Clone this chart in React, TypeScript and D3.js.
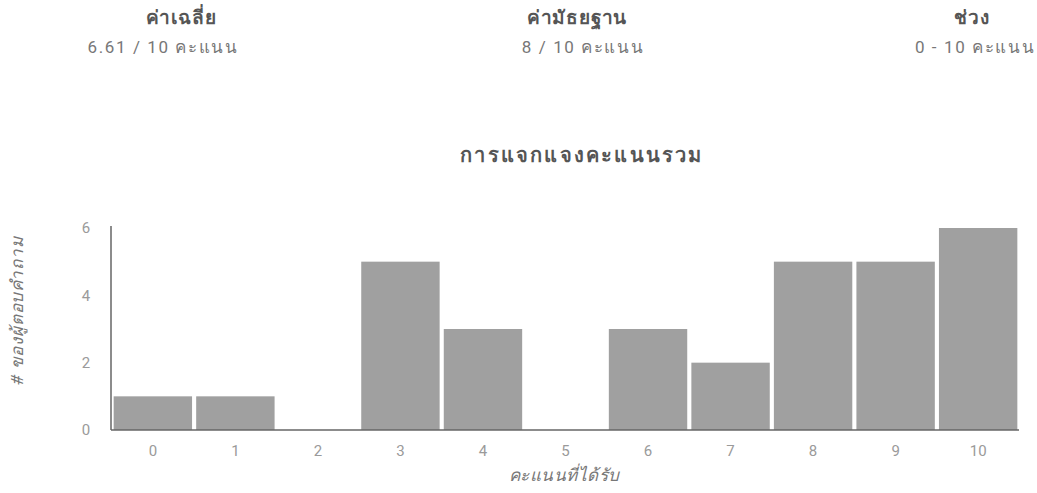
import React, { useEffect, useRef } from 'react';
import * as d3 from 'd3';

const scores = ['0', '1', '2', '3', '4', '5', '6', '7', '8', '9', '10'];
const counts = [1, 1, 0, 5, 3, 0, 3, 2, 5, 5, 6];
const yTicks = [0, 2, 4, 6];

const statLabels = ['ค่าเฉลี่ย', 'ค่ามัธยฐาน', 'ช่วง'];
const statValues = ['6.61 / 10 คะแนน', '8 / 10 คะแนน', '0 - 10 คะแนน'];

const chartTitle = 'การแจกแจงคะแนนรวม';
const xTitle = 'คะแนนที่ได้รับ';
const yTitle = '# ของผู้ตอบคำถาม';

const W = 1037;
const H = 493;
const FONT = "Roboto, 'Noto Sans', 'DejaVu Sans', sans-serif";

export default function App() {
  const ref = useRef<SVGSVGElement>(null);

  useEffect(() => {
    if (!ref.current) return;
    const svg = d3.select(ref.current);
    svg.selectAll('*').remove();

    svg.append('rect').attr('width', W).attr('height', H).attr('fill', '#ffffff');

    // summary stats
    const labelX = [181, 577, 972];
    const valueX = [163, 583, 975];
    statLabels.forEach((lab, i) => {
      svg.append('text')
        .attr('x', labelX[i]).attr('y', 24).attr('text-anchor', 'middle')
        .attr('font-family', FONT).attr('font-weight', 700).attr('font-size', '19px')
        .attr('letter-spacing', '0.8px')
        .attr('fill', '#555').text(lab);
      svg.append('text')
        .attr('x', valueX[i]).attr('y', 53).attr('text-anchor', 'middle')
        .attr('font-family', FONT).attr('font-size', '17px')
        .attr('letter-spacing', '1.6px')
        .attr('fill', '#777').text(statValues[i]);
    });

    svg.append('text')
      .attr('x', 582).attr('y', 162).attr('text-anchor', 'middle')
      .attr('font-family', FONT).attr('font-weight', 700).attr('font-size', '20px')
      .attr('letter-spacing', '2.2px')
      .attr('fill', '#555').text(chartTitle);

    const x = d3.scaleBand<string>().domain(scores).range([112, 1019]).paddingInner(0.05).paddingOuter(0.02);
    const y = d3.scaleLinear().domain([0, 6]).range([430, 228]);

    svg.append('g').selectAll('rect')
      .data(counts).enter().append('rect')
      .attr('x', (d, i) => x(scores[i])!)
      .attr('y', d => y(d))
      .attr('width', x.bandwidth())
      .attr('height', d => y(0) - y(d))
      .attr('fill', '#a0a0a0');

    // axes lines
    svg.append('line')
      .attr('x1', 111).attr('x2', 111).attr('y1', y(6) - 2).attr('y2', y(0))
      .attr('stroke', '#666').attr('stroke-width', 1.5);
    svg.append('line')
      .attr('x1', 111).attr('x2', 1019).attr('y1', y(0)).attr('y2', y(0))
      .attr('stroke', '#666').attr('stroke-width', 1.5);

    svg.append('g').selectAll('text')
      .data(yTicks).enter().append('text')
      .attr('x', 86).attr('y', d => y(d)).attr('dy', '0.35em').attr('text-anchor', 'middle')
      .attr('font-family', FONT).attr('font-size', '15px').attr('fill', '#9a9a9a')
      .text(d => d);

    svg.append('g').selectAll('text')
      .data(scores).enter().append('text')
      .attr('x', d => x(d)! + x.bandwidth() / 2).attr('y', y(0) + 26).attr('text-anchor', 'middle')
      .attr('font-family', FONT).attr('font-size', '15px').attr('fill', '#9a9a9a')
      .text(d => d);

    svg.append('text')
      .attr('x', 564).attr('y', 481).attr('text-anchor', 'middle')
      .attr('font-family', FONT).attr('font-style', 'italic').attr('font-size', '17px')
      .attr('letter-spacing', '0.5px')
      .attr('fill', '#777').text(xTitle);

    svg.append('text')
      .attr('transform', `translate(23, 311) rotate(-90)`)
      .attr('text-anchor', 'middle')
      .attr('font-family', FONT).attr('font-style', 'italic').attr('font-size', '17px')
      .attr('letter-spacing', '0.8px')
      .attr('fill', '#777').text(yTitle);
  }, []);

  return (
    <svg ref={ref} width={W} height={H} viewBox={`0 0 ${W} ${H}`}
      style={{ position: 'absolute', left: 0, top: 0 }} />
  );
}
